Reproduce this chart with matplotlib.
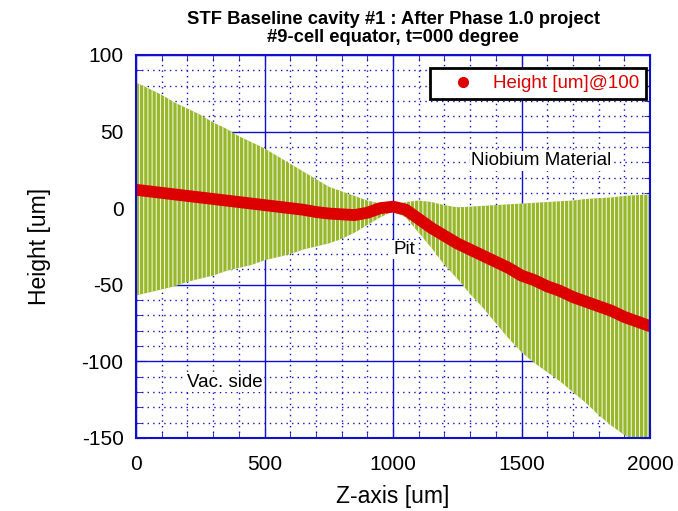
import numpy as np
import matplotlib
matplotlib.use('Agg')
import matplotlib.pyplot as plt
from matplotlib.lines import Line2D
from matplotlib.ticker import MultipleLocator

plt.rcParams['font.family'] = ['Liberation Sans', 'DejaVu Sans']
plt.rcParams['hatch.linewidth'] = 0.65
plt.rcParams['axes.unicode_minus'] = False

# z positions [um], every 50 um
z = np.arange(0, 2001, 50)

# measured height [um]
height = [12, 11, 10, 9, 8, 7, 6, 5, 4, 3,
          2, 1, 0, -1, -2.5, -3.5, -4, -4.5, -3, 0,
          1, -1, -7, -13, -18, -23, -27, -31, -35, -39,
          -44, -47, -51, -54, -58, -61, -64, -67, -71, -74,
          -77]

# upper / lower envelope of the green band
upper = [82, 78, 74, 69, 65, 61, 56, 52, 47, 43,
         39, 34, 29, 24, 19, 14, 11, 8, 5, 3,
         2, 4, 5, 4, 2, 0.5, 1, 1.5, 2, 2.5,
         3, 3.5, 4, 4.5, 5, 6, 6.5, 7, 8, 8.5,
         9]
lower = [-57, -55, -53, -51, -48, -46, -44, -41, -39, -37,
         -34, -32, -30, -27, -25, -23, -20, -16, -11, -6,
         -2, -6, -16, -26, -37, -46, -56, -65, -75, -85,
         -94, -101, -107, -113, -120, -127, -135, -142, -148, -154,
         -160]

blue = '#1010cc'
green = '#97b82a'
red = '#dd0000'

fig = plt.figure(figsize=(6.78, 5.11), dpi=100)
ax = fig.add_axes([0.2006, 0.1429, 0.7581, 0.7495])

ax.fill_between(z, lower, upper, facecolor=green, edgecolor='white',
                hatch='||||', linewidth=0, zorder=2)
ax.plot(z, height, color=red, lw=8.5, solid_capstyle='round', zorder=4)

ax.set_xlim(0, 2000)
ax.set_ylim(-150, 100)
ax.xaxis.set_major_locator(MultipleLocator(500))
ax.xaxis.set_minor_locator(MultipleLocator(100))
ax.yaxis.set_major_locator(MultipleLocator(50))
ax.yaxis.set_minor_locator(MultipleLocator(10))
ax.grid(which='major', color=blue, lw=1.0, ls='-', zorder=1)
ax.grid(which='minor', color=blue, lw=1.0, ls=(0, (1, 3)), zorder=1)
ax.set_axisbelow(True)
for s in ax.spines.values():
    s.set_color(blue)
    s.set_linewidth(1.5)
    s.set_zorder(5)
ax.tick_params(which='both', direction='in', top=True, right=True,
               color=blue, labelsize=15)
ax.tick_params(axis='x', pad=12)
ax.tick_params(axis='y', pad=9)
ax.tick_params(which='major', length=7)
ax.tick_params(which='minor', length=4)

ax.set_xlabel('Z-axis [um]', fontsize=16.5, labelpad=8)
ax.set_ylabel('Height [um]', fontsize=16.5, labelpad=22)
ax.set_title('STF Baseline cavity #1 : After Phase 1.0 project\n'
             '#9-cell equator, t=000 degree',
             fontsize=13.2, fontweight='bold', pad=9, linespacing=1.15)

box = dict(facecolor='white', edgecolor='none', pad=1)
ax.text(1576, 31, 'Niobium Material', fontsize=13.5, ha='center', va='center',
        bbox=box, zorder=6)
ax.text(1043, -27, 'Pit', fontsize=13.5, ha='center', va='center',
        bbox=box, zorder=6)
ax.text(346, -113.5, 'Vac. side', fontsize=13.5, ha='center', va='center',
        bbox=box, zorder=6)

h = Line2D([], [], marker='o', color=red, ls='none', ms=7)
leg = ax.legend([h], ['Height [um]@100'], loc='upper right',
                bbox_to_anchor=(0.992, 0.965), fontsize=13.5,
                frameon=True, fancybox=False, framealpha=1,
                borderaxespad=0, handlelength=2.8, handletextpad=0.2,
                borderpad=0.35, labelcolor=red)
leg.get_frame().set_edgecolor('black')
leg.get_frame().set_linewidth(2)
leg.set_zorder(7)

fig.savefig('out.png', dpi=100)
